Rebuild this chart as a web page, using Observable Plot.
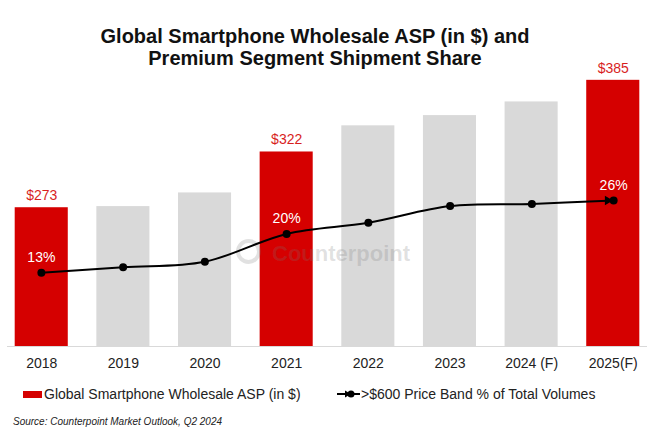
<!DOCTYPE html>
<html>
<head>
<meta charset="utf-8">
<script src="https://cdn.jsdelivr.net/npm/d3@7"></script>
<script src="https://cdn.jsdelivr.net/npm/@observablehq/plot@0.6"></script>
<style>
  html, body { margin: 0; padding: 0; background: #fff; }
  body { font-family: "Liberation Sans", Arial, sans-serif; }
  #wrap { position: relative; width: 661px; height: 437px; overflow: hidden; }
  #title { position: absolute; left: 0; top: 24.5px; width: 630px; text-align: center;
           font-size: 20px; font-weight: bold; line-height: 22.5px; color: #111; }
  .layer { position: absolute; left: 0; top: 50px; }
  #wm { position: absolute; left: 236px; top: 239px; color: rgba(120,120,120,0.22);
        font-size: 22px; font-weight: bold; line-height: 26px; white-space: nowrap; }
  #wm .ring { display: inline-block; width: 17px; height: 17px; border: 4px solid rgba(120,120,120,0.22);
              border-radius: 50%; vertical-align: -3px; margin-right: 11px; }
  .legend { position: absolute; top: 386px; font-size: 14px; line-height: 16px; color: #222; white-space: nowrap; }
  #source { position: absolute; left: 13px; top: 415.5px; font-size: 10px; line-height: 12px;
            font-style: italic; color: #222; white-space: nowrap; }
</style>
</head>
<body>
<div id="wrap">
  <div id="title">Global Smartphone Wholesale ASP (in $) and<br>Premium Segment Shipment Share</div>
  <div id="bars" class="layer"></div>
  <div id="wm"><span class="ring"></span>Counterpoint</div>
  <div id="line" class="layer"></div>
  <div class="legend" style="left:23px;"><span style="display:inline-block;width:19px;height:7px;background:#d50000;vertical-align:1px;margin-right:2px;"></span>Global Smartphone Wholesale ASP (in $)</div>
  <div class="legend" style="left:337px;"><svg width="23" height="10" style="vertical-align:0px;margin-right:1px;"><line x1="0" y1="5" x2="23" y2="5" stroke="#000" stroke-width="2"/><path d="M8,1.5 L14,5 L8,8.5 Z" fill="#000"/><circle cx="14" cy="5" r="3.5" fill="#000"/></svg>&gt;$600 Price Band % of Total Volumes</div>
  <div id="source">Source: Counterpoint Market Outlook, Q2 2024</div>
</div>
<script>
// ---- data ----
const years = ["2018", "2019", "2020", "2021", "2022", "2023", "2024 (F)", "2025(F)"];
const aspValues = [273, 274, 286, 322, 345, 354, 366, 385];
const premiumShare = [13, 14, 15, 20, 22, 25, 25.4, 26];
const highlightedYears = ["2018", "2021", "2025(F)"];
const aspDomain = [151, 391];
const shareDomain = [0, 48.85];

const RED = "#d50000";
const GRAY = "#d9d9d9";

const rows = years.map((year, i) => ({
  year,
  asp: aspValues[i],
  share: premiumShare[i],
  highlight: highlightedYears.includes(year)
}));
const hiRows = rows.filter(d => d.highlight);
const loRows = rows.filter(d => !d.highlight);

const xScale = { domain: years, paddingInner: 0.35, paddingOuter: 0.18, round: false, label: null };

const bars = Plot.plot({
  width: 661, height: 330,
  marginTop: 23, marginBottom: 34, marginLeft: 0, marginRight: 7,
  style: { fontFamily: "Liberation Sans, Arial, sans-serif", background: "transparent", overflow: "visible" },
  x: xScale,
  y: { domain: aspDomain, axis: null },
  marks: [
    Plot.barY(loRows, { x: "year", y1: aspDomain[0], y2: "asp", fill: GRAY }),
    Plot.barY(hiRows, { x: "year", y1: aspDomain[0], y2: "asp", fill: RED }),
    Plot.ruleY([aspDomain[0]], { stroke: "#d9d9d9", strokeWidth: 1, insetLeft: 7, insetRight: 7 }),
    Plot.text(hiRows, { x: "year", y: "asp", text: d => "$" + d.asp, dy: -12, fill: "#d81e1e", fontSize: 14 }),
    Plot.axisX({ tickSize: 0, tickPadding: 12, fontSize: 14, fill: "#222", label: null })
  ]
});
document.getElementById("bars").appendChild(bars);

const line = Plot.plot({
  width: 661, height: 330,
  marginTop: 23, marginBottom: 35.4, marginLeft: 0, marginRight: 7,
  style: { fontFamily: "Liberation Sans, Arial, sans-serif", background: "transparent", overflow: "visible" },
  x: { ...xScale, axis: null },
  y: { domain: shareDomain, axis: null },
  marks: [
    Plot.line(rows, { x: "year", y: "share", stroke: "#000", strokeWidth: 2, curve: "catmull-rom" }),
    Plot.dot(rows, { x: "year", y: "share", r: 4, fill: "#000" }),
    Plot.dot(rows.slice(-1), { x: "year", y: "share", symbol: "triangle2", rotate: 90, r: 4.5, dx: -6, fill: "#000" }),
    Plot.text(hiRows, { x: "year", y: "share", text: d => d.share + "%", dy: -15.5, fill: "#fff", fontSize: 14 })
  ]
});
document.getElementById("line").appendChild(line);
</script>
</body>
</html>
